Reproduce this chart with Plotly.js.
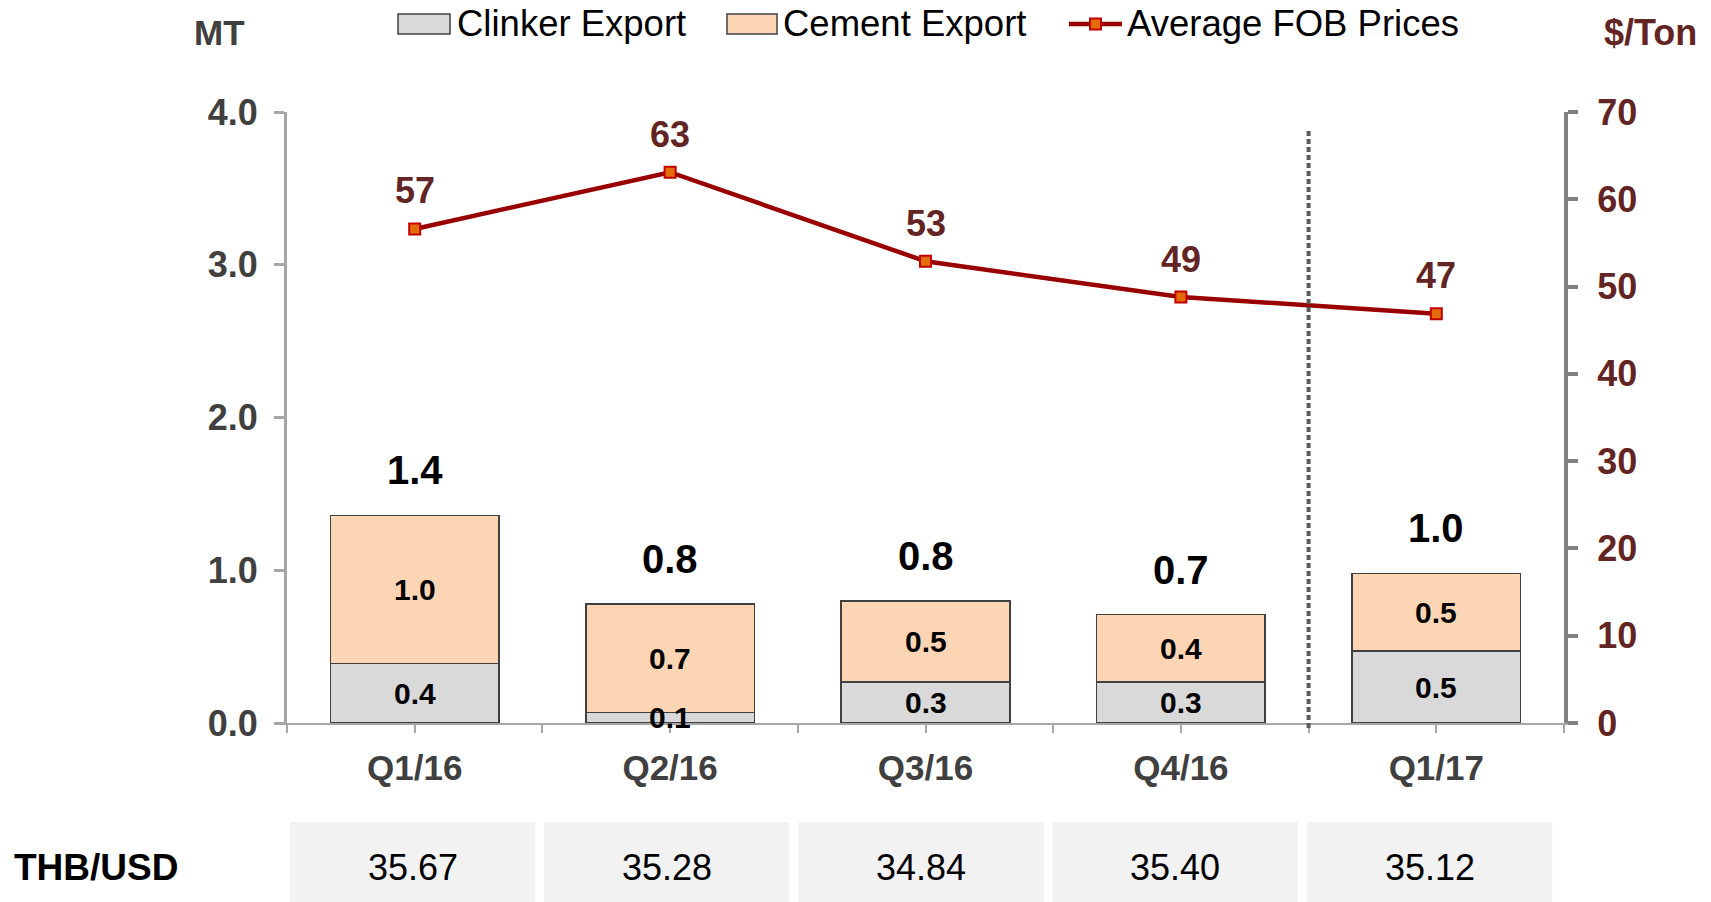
<!DOCTYPE html>
<html>
<head>
<meta charset="utf-8">
<script src="https://cdn.plot.ly/plotly-3.0.1.min.js"></script>
<style>
  html, body { margin: 0; padding: 0; background: #ffffff; }
  #chart { width: 1711px; height: 902px; }
</style>
</head>
<body>
<div id="chart"></div>
<script>
// ---- Data ----
const categories = ['Q1/16', 'Q2/16', 'Q3/16', 'Q4/16', 'Q1/17'];
const clinkerExport = [0.39, 0.07, 0.27, 0.27, 0.47];   // MT
const cementExport  = [0.97, 0.71, 0.53, 0.44, 0.51];   // MT
const avgFobPrice   = [56.6, 63.1, 52.9, 48.8, 46.9];   // $/Ton
const thbUsd        = ['35.67', '35.28', '34.84', '35.40', '35.12'];
const dividerAfter  = 'Q4/16';
const seriesNames   = ['Clinker Export', 'Cement Export', 'Average FOB Prices'];

// ---- Styling ----
const FONT = 'Liberation Sans, Arial, Helvetica, sans-serif';
const GREY_TXT = '#404040';
const MAROON = '#632523';
const CLINKER_FILL = '#d9d9d9';
const CEMENT_FILL = '#fcd5b4';
const BAR_LINE = '#404040';
const LINE_COLOR = '#990000';
const MARKER_FILL = '#e46c0a';
const MARKER_LINE = '#c00000';

// plot area in pixels
const W = 1711, H = 902;
const L = 287, R = 1564, T = 112, B = 723;
const px = v => (v - L) / (R - L);
const py = v => (B - v) / (B - T);

const idx = categories.map((_, i) => i);
const totals = idx.map(i => clinkerExport[i] + cementExport[i]);

// ticks at category centres and boundaries
const tickVals = [], tickText = [];
for (let v = -0.5; v <= categories.length - 0.5 + 1e-9; v += 0.5) {
  tickVals.push(v);
  const k = Math.round(v);
  tickText.push(Math.abs(v - k) < 1e-9 ? categories[k] : '');
}

const traces = [
  {
    type: 'bar', name: seriesNames[0], x: idx, y: clinkerExport,
    width: 0.66,
    marker: { color: CLINKER_FILL, line: { color: BAR_LINE, width: 1.5 } },
    hoverinfo: 'skip', showlegend: false
  },
  {
    type: 'bar', name: seriesNames[1], x: idx, y: cementExport,
    width: 0.66,
    marker: { color: CEMENT_FILL, line: { color: BAR_LINE, width: 1.5 } },
    hoverinfo: 'skip', showlegend: false
  },
  {
    type: 'scatter', mode: 'lines+markers', name: seriesNames[2],
    x: idx, y: avgFobPrice, yaxis: 'y2',
    line: { color: LINE_COLOR, width: 4.5 },
    marker: { symbol: 'square', size: 11, color: MARKER_FILL, line: { color: MARKER_LINE, width: 2 } },
    hoverinfo: 'skip', showlegend: false, cliponaxis: false
  }
];

const annotations = [];
const segFont = { family: FONT, size: 30, color: '#000000', weight: 'bold' };
// segment labels (centred in each segment)
idx.forEach(i => {
  annotations.push({
    x: i, y: clinkerExport[i] / 2, xref: 'x', yref: 'y', showarrow: false,
    text: clinkerExport[i].toFixed(1), yanchor: 'middle', font: segFont
  });
  annotations.push({
    x: i, y: clinkerExport[i] + cementExport[i] / 2, xref: 'x', yref: 'y', showarrow: false,
    text: cementExport[i].toFixed(1), yanchor: 'middle', font: segFont
  });
});
// total labels above bars
idx.forEach(i => annotations.push({
  x: i, y: totals[i], xref: 'x', yref: 'y', yshift: 45, showarrow: false,
  text: totals[i].toFixed(1), yanchor: 'middle',
  font: { family: FONT, size: 40, color: '#000000', weight: 'bold' }
}));
// price labels above points
idx.forEach(i => annotations.push({
  x: i, y: avgFobPrice[i], xref: 'x', yref: 'y2', yshift: 38, showarrow: false,
  text: avgFobPrice[i].toFixed(0), yanchor: 'middle',
  font: { family: FONT, size: 36, color: MAROON, weight: 'bold' }
}));
// axis unit labels
annotations.push({
  x: px(219), y: py(33), xref: 'paper', yref: 'paper', showarrow: false,
  text: 'MT', xanchor: 'center', yanchor: 'middle',
  font: { family: FONT, size: 35, color: GREY_TXT, weight: 'bold' }
});
annotations.push({
  x: px(1650), y: py(33), xref: 'paper', yref: 'paper', showarrow: false,
  text: '$/Ton', xanchor: 'center', yanchor: 'middle',
  font: { family: FONT, size: 36, color: MAROON, weight: 'bold' }
});
// legend texts
const legendTextX = [455, 781, 1125];
seriesNames.forEach((n, k) => annotations.push({
  x: px(legendTextX[k]), y: py(24), xref: 'paper', yref: 'paper', showarrow: false,
  text: n, xanchor: 'left', yanchor: 'middle',
  font: { family: FONT, size: 36.5, color: '#000000' }
}));
// exchange-rate table
const cellCenter = i => i * 0.9955 - 0.0085;
annotations.push({
  x: px(12), y: py(867), xref: 'paper', yref: 'paper', showarrow: false,
  text: 'THB/USD', xanchor: 'left', yanchor: 'middle',
  font: { family: FONT, size: 37, color: '#000000', weight: 'bold' }
});
idx.forEach(i => annotations.push({
  x: cellCenter(i), y: py(867), xref: 'x', yref: 'paper', showarrow: false,
  text: thbUsd[i], xanchor: 'center', yanchor: 'middle',
  font: { family: FONT, size: 36, color: '#000000' }
}));

const shapes = [];
// table cells
idx.forEach(i => shapes.push({
  type: 'rect', xref: 'x', yref: 'paper',
  x0: cellCenter(i) - 0.48, x1: cellCenter(i) + 0.48, y0: py(902), y1: py(822),
  fillcolor: '#f2f2f2', line: { width: 0 }, layer: 'below'
}));
// divider between Q4/16 and Q1/17
const dIdx = categories.indexOf(dividerAfter) + 0.5;
shapes.push({
  type: 'line', xref: 'x', yref: 'paper', x0: dIdx, x1: dIdx, y0: py(728), y1: py(131),
  line: { color: '#595959', width: 4, dash: '5px,3px' }
});
// legend symbols
shapes.push({ type: 'rect', xref: 'paper', yref: 'paper',
  x0: px(398), x1: px(450), y0: py(34), y1: py(14),
  fillcolor: CLINKER_FILL, line: { color: BAR_LINE, width: 1.5 } });
shapes.push({ type: 'rect', xref: 'paper', yref: 'paper',
  x0: px(727), x1: px(777), y0: py(34), y1: py(14),
  fillcolor: CEMENT_FILL, line: { color: BAR_LINE, width: 1.5 } });
shapes.push({ type: 'line', xref: 'paper', yref: 'paper',
  x0: px(1069), x1: px(1122), y0: py(24), y1: py(24),
  line: { color: LINE_COLOR, width: 4.5 } });
shapes.push({ type: 'rect', xref: 'paper', yref: 'paper',
  x0: px(1090), x1: px(1101), y0: py(29.5), y1: py(18.5),
  fillcolor: MARKER_FILL, line: { color: MARKER_LINE, width: 2 } });

const layout = {
  width: W, height: H,
  margin: { l: L, r: W - R, t: T, b: H - B, pad: 0 },
  paper_bgcolor: '#ffffff', plot_bgcolor: '#ffffff',
  barmode: 'stack',
  showlegend: false,
  font: { family: FONT },
  xaxis: {
    type: 'linear', range: [-0.5, categories.length - 0.5],
    tickvals: tickVals, ticktext: tickText,
    ticks: 'outside', ticklen: 8, tickwidth: 2, tickcolor: '#a6a6a6',
    showline: true, linecolor: '#a6a6a6', linewidth: 2,
    showgrid: false, zeroline: false, fixedrange: true,
    ticklabelstandoff: 5,
    tickfont: { family: FONT, size: 35, color: GREY_TXT, weight: 'bold' }
  },
  yaxis: {
    range: [0, 4], dtick: 1, tickformat: '.1f',
    ticks: 'outside', ticklen: 10, tickwidth: 3, tickcolor: '#a6a6a6',
    showline: true, linecolor: '#a6a6a6', linewidth: 3,
    showgrid: false, zeroline: false, fixedrange: true,
    ticklabelstandoff: 9,
    tickfont: { family: FONT, size: 36, color: GREY_TXT, weight: 'bold' }
  },
  yaxis2: {
    overlaying: 'y', side: 'right',
    range: [0, 70], dtick: 10,
    ticks: 'outside', ticklen: 10, tickwidth: 4, tickcolor: '#808080',
    showline: true, linecolor: '#808080', linewidth: 4,
    showgrid: false, zeroline: false, fixedrange: true,
    ticklabelstandoff: 12,
    tickfont: { family: FONT, size: 36, color: MAROON, weight: 'bold' }
  },
  annotations: annotations,
  shapes: shapes
};

Plotly.newPlot('chart', traces, layout, { displayModeBar: false, staticPlot: true });
</script>
</body>
</html>
